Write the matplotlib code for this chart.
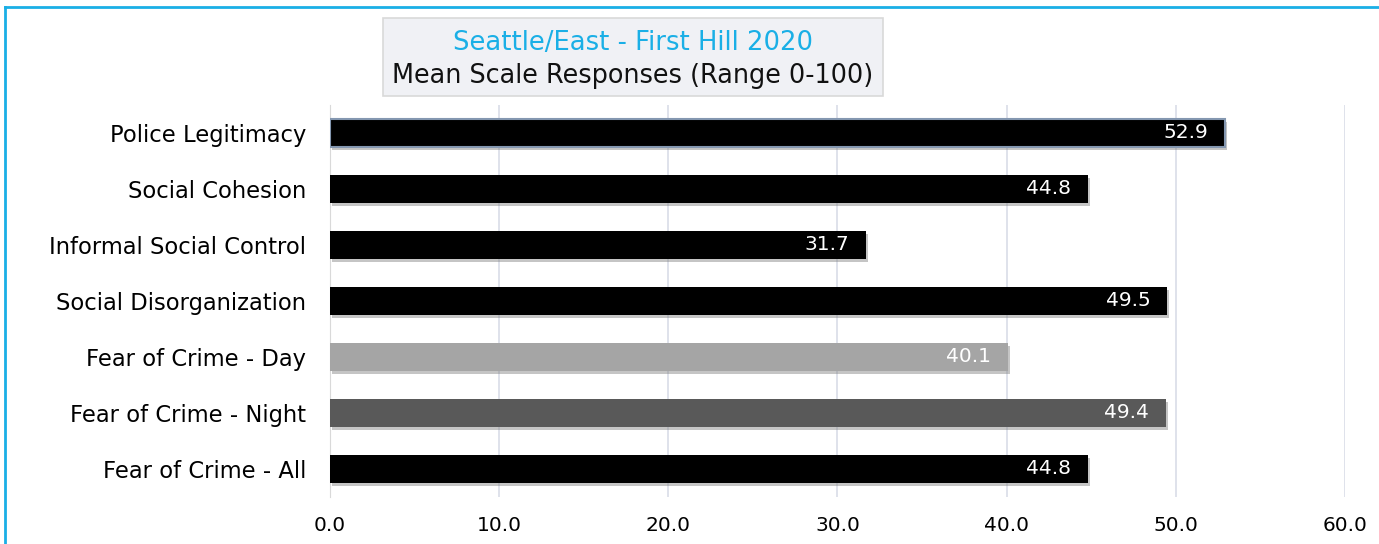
import matplotlib.pyplot as plt
import matplotlib.patheffects as pe
from matplotlib.lines import Line2D
from matplotlib.patches import Rectangle

categories = ['Police Legitimacy', 'Social Cohesion', 'Informal Social Control',
              'Social Disorganization', 'Fear of Crime - Day', 'Fear of Crime - Night',
              'Fear of Crime - All']
values = [52.9, 44.8, 31.7, 49.5, 40.1, 49.4, 44.8]
bar_colors = ['#000000', '#000000', '#000000', '#000000', '#a5a5a5', '#595959', '#000000']
ticks = [0, 10, 20, 30, 40, 50, 60]

fig = plt.figure(figsize=(13.79, 5.44), dpi=100)
ax = fig.add_axes([0.2393, 0.0864, 0.736, 0.7206])

ypos = list(range(len(categories)))
shadow = [pe.SimplePatchShadow(offset=(1.5, -2), shadow_rgbFace='#7f7f7f', alpha=0.45), pe.Normal()]
bars = ax.barh(ypos, values, height=0.5, color=bar_colors, zorder=3)
for i, b in enumerate(bars):
    b.set_path_effects(shadow)
    if i == 0:
        b.set_edgecolor('#8497b0')
        b.set_linewidth(1.5)

for y, v in zip(ypos, values):
    ax.text(v - 1.0, y, f'{v:.1f}', ha='right', va='center', color='white',
            fontsize=14.5, zorder=4)

ax.set_ylim(len(categories) - 0.5, -0.5)
ax.set_xlim(0, 60)
ax.set_xticks(ticks)
ax.set_xticklabels([f'{t:.1f}' for t in ticks], fontsize=14.5)
ax.set_yticks(ypos)
ax.set_yticklabels(categories, fontsize=16.3)
ax.tick_params(axis='both', length=0)
ax.tick_params(axis='x', pad=14)
ax.tick_params(axis='y', pad=17)
ax.grid(axis='x', color='#d9dde8', linewidth=1.2, zorder=0)
for s in ['top', 'right', 'bottom']:
    ax.spines[s].set_visible(False)
ax.spines['left'].set_color('#d9d9d9')

# title box
fig.patches.append(Rectangle((383 / 1379, 1 - 96 / 544), 500 / 1379, 78 / 544,
                             transform=fig.transFigure, facecolor='#f0f1f5',
                             edgecolor='#d9d9d9', linewidth=1.2))
fig.text(633 / 1379, 1 - 43 / 544, 'Seattle/East - First Hill 2020', ha='center',
         va='center', fontsize=18.6, color='#1aafe6')
fig.text(633 / 1379, 1 - 76 / 544, 'Mean Scale Responses (Range 0-100)', ha='center',
         va='center', fontsize=18.4, color='#111111')

# outer cyan frame
fig.lines.append(Line2D([5 / 1379, 5 / 1379], [0, 1 - 7 / 544], transform=fig.transFigure,
                        color='#1aafe6', linewidth=2))
fig.lines.append(Line2D([5 / 1379, 1], [1 - 7 / 544, 1 - 7 / 544], transform=fig.transFigure,
                        color='#1aafe6', linewidth=2))

fig.savefig('out.png', dpi=100)
